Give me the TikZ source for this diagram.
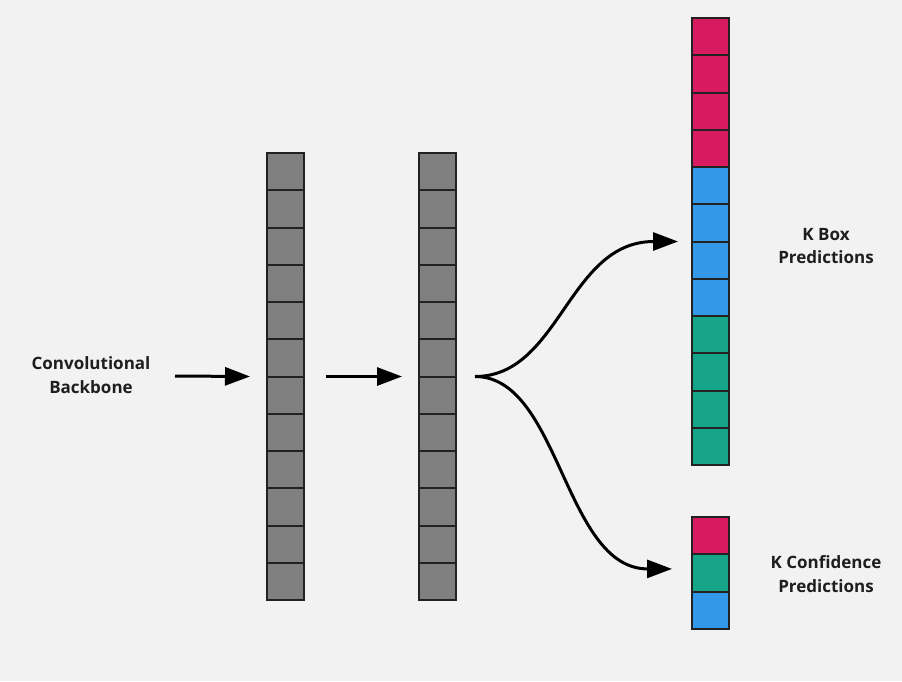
\documentclass[tikz,border=0pt]{standalone}
\usepackage{fontspec}
\setmainfont{Open Sans}
\usepackage{tikz}
\usetikzlibrary{calc}
\usetikzlibrary{arrows.meta}

\definecolor{bgray}{HTML}{F2F2F2}
\definecolor{cgray}{HTML}{808080}
\definecolor{cred}{HTML}{D81B60}
\definecolor{cblue}{HTML}{3498E8}
\definecolor{cgreen}{HTML}{17A589}
\definecolor{cline}{HTML}{222222}
\definecolor{ctext}{HTML}{1E1E1E}

\tikzset{
  cell/.style={draw=cline, line width=2pt, minimum width=37pt, minimum height=37.25pt,
    inner sep=0pt, outer sep=0pt},
  lbl/.style={align=center, text=ctext, font=\bfseries\fontsize{17}{23.5}\selectfont},
  arr/.style={line width=3pt, -{Triangle[length=25pt,width=18pt]}}
}

\begin{document}
\begin{tikzpicture}[x=1pt, y=-1pt]
                % background and page size
                \fill[bgray] (0,0) rectangle (902,681);

                % Drawing the two feature columns
                \foreach \i in {1,...,12} {
                  \node[cell, fill=cgray] (l\i) at (285.5, {134.375+37.25*\i}) {};%
                  \node[cell, fill=cgray] (m\i) at (437.5, {134.375+37.25*\i}) {};%
                }

                % Drawing the box prediction column
                \foreach \i/\c in {1/cred,2/cred,3/cred,4/cred,5/cblue,6/cblue,7/cblue,8/cblue,
                                   9/cgreen,10/cgreen,11/cgreen,12/cgreen} {
                  \node[cell, fill=\c] (r\i) at (710.5, {-0.625+37.25*\i}) {};%
                }

                % Drawing the confidence column
                \foreach \i/\c in {1/cred,2/cgreen,3/cblue} {
                  \node[cell, fill=\c] (c\i) at (710.5, {498.4+37.25*\i}) {};%
                }

                % Labels
                \node[lbl] (backbone) at (91,375) {Convolutional\\Backbone};%
                \node[lbl] (boxlbl) at (826,246) {K Box\\Predictions};%
                \node[lbl] (conflbl) at (826,574) {K Confidence\\Predictions};%

                % Arrow end points
                \coordinate (featin) at (175,376);
                \coordinate (featout) at ($(l6.south east)+(22,0)$);
                \coordinate (split) at ($(m6.south east)+(19,0)$);
                \coordinate (boxin) at ($(r6.south west)+(-14,0)$);
                \coordinate (confin) at ($(c2.west)+(-20,-4)$);

                % Drawing the arrows
                \draw[arr] (featin) -- ($(l6.south west)+(-17,0)$);%
                \draw[arr] (featout) -- ($(m6.south west)+(-17,0)$);%
                \draw[arr] (split) .. controls +(85,0) and +(-110,0) .. (boxin);%
                \draw[arr] (split) .. controls +(85,0) and +(-108,0) .. (confin);%
\end{tikzpicture}
\end{document}
